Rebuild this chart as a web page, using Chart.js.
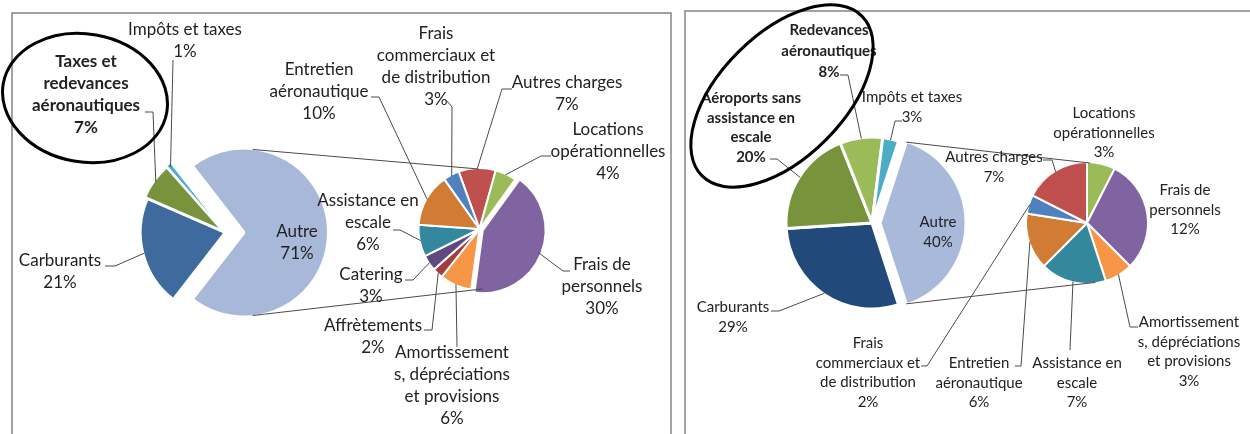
<!DOCTYPE html>
<html><head><meta charset="utf-8">
<script src="https://cdn.jsdelivr.net/npm/chart.js@4.4.1/dist/chart.umd.min.js"></script>
<style>
html,body{margin:0;padding:0;background:#fff;}
#wrap{position:relative;width:1250px;height:434px;overflow:hidden;background:#fff;}
#wrap canvas{position:absolute;left:0;top:0;}
</style></head><body><div id="wrap"></div>
<script>
// ---------------- DATA ----------------
const leftMainCategories = ['Autre', 'Carburants', 'Taxes et\nredevances\naéronautiques', 'Impôts et taxes'];
const leftMainValues = [71, 21, 7, 1];
const leftSecCategories = ['Autres charges', 'Locations\nopérationnelles', 'Frais de\npersonnels', 'Amortissement\ns, dépréciations\net provisions', 'Affrètements', 'Catering', 'Assistance en\nescale', 'Entretien\naéronautique', 'Frais\ncommerciaux et\nde distribution'];
const leftSecValues = [7, 4, 30, 6, 2, 3, 6, 10, 3];
const rightMainCategories = ['Autre', 'Carburants', 'Aéroports sans\nassistance en\nescale', 'Redevances\naéronautiques', 'Impôts et taxes'];
const rightMainValues = [40, 29, 20, 8, 3];
const rightSecCategories = ['Locations\nopérationnelles', 'Frais de\npersonnels', 'Amortissement\ns, dépréciations\net provisions', 'Assistance en\nescale', 'Entretien\naéronautique', 'Frais\ncommerciaux et\nde distribution', 'Autres charges'];
const rightSecValues = [3, 12, 3, 7, 6, 2, 7];

// ---------------- STYLE ----------------
const W = 1250, H = 434;
const FONT = 'Lato, "Open Sans", sans-serif';
const TEXT = '#222222', LEADER = '#4a4a4a';
const leftMainColors = ['#A8B8D9', '#3E6A9E', '#77943D', '#4BACC6'];
const leftSecColors = ['#C0504D', '#9BBB59', '#8064A2', '#F79646', '#A33C3A', '#5E4A7E', '#33889E', '#D17C35', '#4F81BD'];
const rightMainColors = ['#A9B9DA', '#214A7B', '#77933C', '#9BBB59', '#4BACC6'];
const rightSecColors = ['#9BBB59', '#8064A2', '#F79646', '#33889E', '#D17C35', '#4F81BD', '#C0504D'];

const wrap = document.getElementById('wrap');
function newCanvas() {
  const c = document.createElement('canvas');
  c.width = W; c.height = H; c.style.width = W + 'px'; c.style.height = H + 'px';
  wrap.appendChild(c);
  return c.getContext('2d');
}
function makePie(values, labels, colors, borderColors, borderWidths, offsets, cx, cy, R, rotation, plugins) {
  const S = R + 20;
  return new Chart(newCanvas(), {
    type: 'pie',
    data: { labels: labels, datasets: [{ data: values, backgroundColor: colors, borderColor: borderColors,
      borderWidth: borderWidths, offset: offsets, hoverOffset: 0 }] },
    options: {
      responsive: false, animation: false, events: [], devicePixelRatio: 1,
      radius: R, rotation: rotation,
      layout: { padding: { left: cx - S, right: W - cx - S, top: cy - S, bottom: H - cy - S } },
      plugins: { legend: { display: false }, tooltip: { enabled: false } }
    },
    plugins: plugins || []
  });
}
const transparent = 'rgba(0,0,0,0)';
function rotFor(values) { return 90 - values[0] / values.reduce((a, b) => a + b, 0) * 180; }

// panels (drawn beneath)
const underPlugin = { id: 'under', beforeDraw(chart) {
  const ctx = chart.ctx; ctx.save();
  ctx.strokeStyle = '#8c8c8c'; ctx.lineWidth = 1.6;
  ctx.strokeRect(12, 13, 659, 440);
  ctx.strokeRect(685, 11, 600, 440);
  ctx.restore();
}};

// ---------- left panel ----------
const lmOthersColors = leftMainColors.map((c, i) => i === 0 ? transparent : c);
const lmOthersBorder = leftMainColors.map((c, i) => i === 0 ? transparent : '#ffffff');
const lmOthers = makePie(leftMainValues, leftMainCategories, lmOthersColors, lmOthersBorder, [0, 2.5, 2.5, 1.2], [0, 0, 8, 8],
  225, 232.5, 84.5, rotFor(leftMainValues), [underPlugin]);
const lmAutre = makePie(leftMainValues, leftMainCategories, leftMainColors.map((c, i) => i === 0 ? c : transparent),
  leftMainColors.map((c, i) => i === 0 ? '#ffffff' : transparent), [3, 0, 0, 0], 0,
  244, 232.5, 84.5, rotFor(leftMainValues));
const lSec = makePie(leftSecValues, leftSecCategories, leftSecColors, '#ffffff', 2, [0, 0, 14, 0, 0, 0, 0, 0, 0],
  479.5, 229, 61, -20);

// ---------- right panel ----------
const rmOthers = makePie(rightMainValues, rightMainCategories, rightMainColors.map((c, i) => i === 0 ? transparent : c),
  rightMainColors.map((c, i) => i === 0 ? transparent : '#ffffff'), [0, 3, 3, 3, 3], 0,
  872, 223, 86, rotFor(rightMainValues));
const rmAutre = makePie(rightMainValues, rightMainCategories, rightMainColors.map((c, i) => i === 0 ? c : transparent),
  rightMainColors.map((c, i) => i === 0 ? '#ffffff' : transparent), [3, 0, 0, 0, 0], 0,
  880, 223, 86, rotFor(rightMainValues));

// label layout (positions only)
const leftMainPos = [
  { x: 297, y: 232 },
  { x: 60, y: 261, pts: [[105, 266], [115, 266]] },
  { x: 86, y: 62, lh: 22, bold: true, pts: [[145, 112], [153, 112]] },
  { x: 185, y: 30, pts: [[173, 60]] }
];
const leftSecPos = [
  { x: 567, y: 83, pts: [[512, 89], [502, 89]] },
  { x: 608, y: 130, pts: [[551, 156], [541, 156]] },
  { x: 602, y: 265, pts: [[570, 271], [563, 271]] },
  { x: 452, y: 353, pts: [[457, 347]] },
  { x: 373, y: 326, pts: [[424, 330], [432, 330]] },
  { x: 371, y: 275, pts: [[405, 280], [413, 280]] },
  { x: 368, y: 201, pts: [[393, 230], [400, 230]] },
  { x: 319, y: 70, pts: [[371, 97], [379, 97]] },
  { x: 436, y: 34, pts: [[447, 101], [452, 107]] }
];
const rightMainPos = [
  { x: 938, y: 222 },
  { x: 733, y: 307, pts: [[771, 311], [779, 311]] },
  { x: 751, y: 98, bold: true, pts: [[770, 159], [777, 159]] },
  { x: 829, y: 30, bold: true, lh: 21, pts: [[840, 75], [848, 75]] },
  { x: 912, y: 97, pts: [[902, 121], [895, 121]] }
];
const rightSecPos = [
  { x: 1104, y: 113 },
  { x: 1185, y: 190 },
  { x: 1189, y: 322, pts: [[1138, 327], [1130, 327]] },
  { x: 1077, y: 363, pts: [[1070, 350]] },
  { x: 979, y: 363, pts: [[1015, 366], [1021, 366]] },
  { x: 868, y: 343, pts: [[921, 366], [927, 366]] },
  { x: 994, y: 157, pts: [[1043, 160], [1052, 160]] }
];

function anchor(chart, i) {
  const arc = chart.getDatasetMeta(0).data[i];
  const mid = (arc.startAngle + arc.endAngle) / 2;
  const off = (arc.options.offset || 0) / 4;
  const r = arc.outerRadius - 1 + off;
  return [arc.x + Math.cos(mid) * r, arc.y + Math.sin(mid) * r];
}
function circPt(chart, deg) {
  const arc = chart.getDatasetMeta(0).data[0];
  const a = deg * Math.PI / 180, r = arc.outerRadius - 1;
  return [arc.x + Math.cos(a) * r, arc.y + Math.sin(a) * r];
}
// values are already shares of the overall total (in %)
function drawLabels(ctx, chart, cats, vals, pos, size, lhDef) {
  cats.forEach((cat, i) => {
    const p = pos[i];
    const lines = cat.split('\n').concat([vals[i] + '%']);
    const lh = p.lh || lhDef;
    if (p.pts) {
      const a = anchor(chart, i);
      ctx.beginPath();
      ctx.moveTo(p.pts[0][0], p.pts[0][1]);
      for (let k = 1; k < p.pts.length; k++) ctx.lineTo(p.pts[k][0], p.pts[k][1]);
      ctx.lineTo(a[0], a[1]);
      ctx.strokeStyle = LEADER; ctx.lineWidth = 1; ctx.stroke();
    }
    ctx.font = (p.bold ? 'bold ' : '') + size + 'px ' + FONT;
    ctx.fillStyle = TEXT; ctx.textAlign = 'center'; ctx.textBaseline = 'middle';
    lines.forEach((t, k) => ctx.fillText(t, p.x, p.y + k * lh));
  });
}
function line(ctx, a, b) { ctx.beginPath(); ctx.moveTo(a[0], a[1]); ctx.lineTo(b[0], b[1]); ctx.stroke(); }
function ellipse(ctx, x, y, rx, ry, rot) {
  ctx.beginPath(); ctx.ellipse(x, y, rx, ry, rot * Math.PI / 180, 0, Math.PI * 2);
  ctx.strokeStyle = '#000'; ctx.lineWidth = 3; ctx.stroke();
}

const overlayPlugin = { id: 'overlay', afterDraw(chart) {
  const ctx = chart.ctx; ctx.save();
  const rSec = chart;
  // connectors
  ctx.strokeStyle = LEADER; ctx.lineWidth = 1;
  line(ctx, circPt(lmAutre, -84), circPt(lSec, -91));
  line(ctx, circPt(lmAutre, 84), circPt(lSec, 87));
  const ra = rmAutre.getDatasetMeta(0).data[0];
  line(ctx, circPt(rmAutre, ra.startAngle * 180 / Math.PI), circPt(rSec, -87));
  line(ctx, circPt(rmAutre, ra.endAngle * 180 / Math.PI), circPt(rSec, 82));
  // labels
  drawLabels(ctx, lmOthers, leftMainCategories, leftMainValues, leftMainPos, 17, 21.7);
  drawLabels(ctx, lSec, leftSecCategories, leftSecValues, leftSecPos, 17, 21.7);
  drawLabels(ctx, rmOthers, rightMainCategories, rightMainValues, rightMainPos, 15, 19.8);
  drawLabels(ctx, rSec, rightSecCategories, rightSecValues, rightSecPos, 15, 19.8);
  // ellipses
  ellipse(ctx, 85, 98, 83, 64, 10);
  ellipse(ctx, 782, 96, 113, 62, -45);
  ctx.restore();
}};

const rSecChart = makePie(rightSecValues, rightSecCategories, rightSecColors, '#ffffff', 2, 0,
  1087, 223, 61, 0, [overlayPlugin]);
</script>
</body></html>
